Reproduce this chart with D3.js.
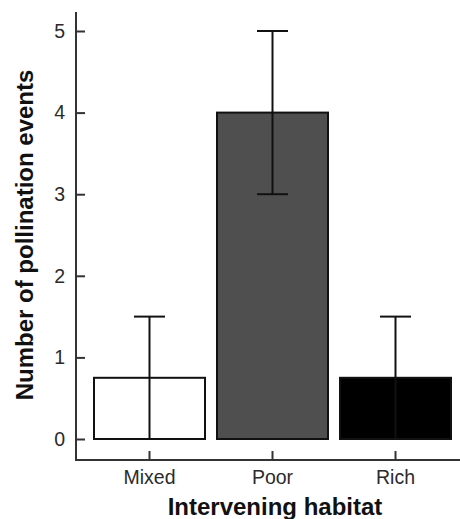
<!DOCTYPE html>
<meta charset="utf-8">
<style>
body { margin: 0; background: #fff; }
svg text { font-family: "Liberation Sans", Arial, sans-serif; }
.tick text { fill: #2b2b2b; font-size: 19.5px; }
.tick line { stroke: #333; stroke-width: 2; }
.axis-label { font-weight: bold; font-size: 24px; fill: #111; }
</style>
<body>
<svg class="chart js-chart"></svg>

<script src="https://d3js.org/d3.v7.min.js"></script>
<script type="text/javascript">
"use strict";

var habitats = ["Mixed", "Poor", "Rich"];
var means = [0.75, 4, 0.75];
var errors = [0.75, 1, 0.75];
var fills = ["#ffffff", "#4f4f4f", "#000000"];
var yTicks = [0, 1, 2, 3, 4, 5];

var width = 460, height = 519;
var axisX = 76, axisY = 460;

var svg = d3.select('.js-chart')
  .attr('width', width)
  .attr('height', height);

var x = d3.scaleBand()
  .domain(habitats)
  .range([88, 457])
  .paddingInner(12 / 123)
  .paddingOuter(6 / 123);

var y = d3.scaleLinear()
  .domain([0, 5])
  .range([439, 31]);

var data = habitats.map(function (h, i) {
  return { habitat: h, mean: means[i], err: errors[i], fill: fills[i] };
});

// bars
svg.selectAll('.bar')
  .data(data)
  .enter().append('rect')
    .attr('class', 'bar')
    .attr('x', function (d) { return x(d.habitat); })
    .attr('width', x.bandwidth())
    .attr('y', function (d) { return y(d.mean); })
    .attr('height', function (d) { return y(0) - y(d.mean); })
    .style('fill', function (d) { return d.fill; })
    .style('stroke', '#111')
    .style('stroke-width', 2);

// error bars
var capW = 31;
var eb = svg.selectAll('.err')
  .data(data)
  .enter().append('g')
    .attr('class', 'err')
    .attr('transform', function (d) { return 'translate(' + (x(d.habitat) + x.bandwidth() / 2) + ',0)'; })
    .style('stroke', '#111')
    .style('stroke-width', 2);

eb.append('line')
  .attr('y1', function (d) { return y(d.mean - d.err); })
  .attr('y2', function (d) { return y(d.mean + d.err); });
eb.append('line')
  .attr('x1', -capW / 2).attr('x2', capW / 2)
  .attr('y1', function (d) { return y(d.mean + d.err); })
  .attr('y2', function (d) { return y(d.mean + d.err); });
eb.append('line')
  .attr('x1', -capW / 2).attr('x2', capW / 2)
  .attr('y1', function (d) { return y(d.mean - d.err); })
  .attr('y2', function (d) { return y(d.mean - d.err); });

// y axis
var yAxis = svg.append('g')
  .attr('transform', 'translate(' + axisX + ',0)')
  .call(d3.axisLeft(y).tickValues(yTicks).tickSize(-9).tickPadding(11).tickFormat(d3.format('d')));
yAxis.select('.domain').remove();

// x axis
var xAxis = svg.append('g')
  .attr('transform', 'translate(0,' + axisY + ')')
  .call(d3.axisBottom(x).tickSize(-9).tickPadding(10));
xAxis.select('.domain').remove();

// axis lines
svg.append('path')
  .attr('d', 'M' + axisX + ',12V' + axisY + 'H' + width)
  .style('fill', 'none')
  .style('stroke', '#333')
  .style('stroke-width', 2);

// labels
svg.append('text')
  .attr('class', 'axis-label')
  .attr('text-anchor', 'middle')
  .attr('x', (axisX + width) / 2 + 7)
  .attr('y', 515)
  .text('Intervening habitat');

svg.append('text')
  .attr('class', 'axis-label')
  .attr('text-anchor', 'middle')
  .attr('transform', 'translate(33,235) rotate(-90)')
  .text('Number of pollination events');
</script>
</body>
